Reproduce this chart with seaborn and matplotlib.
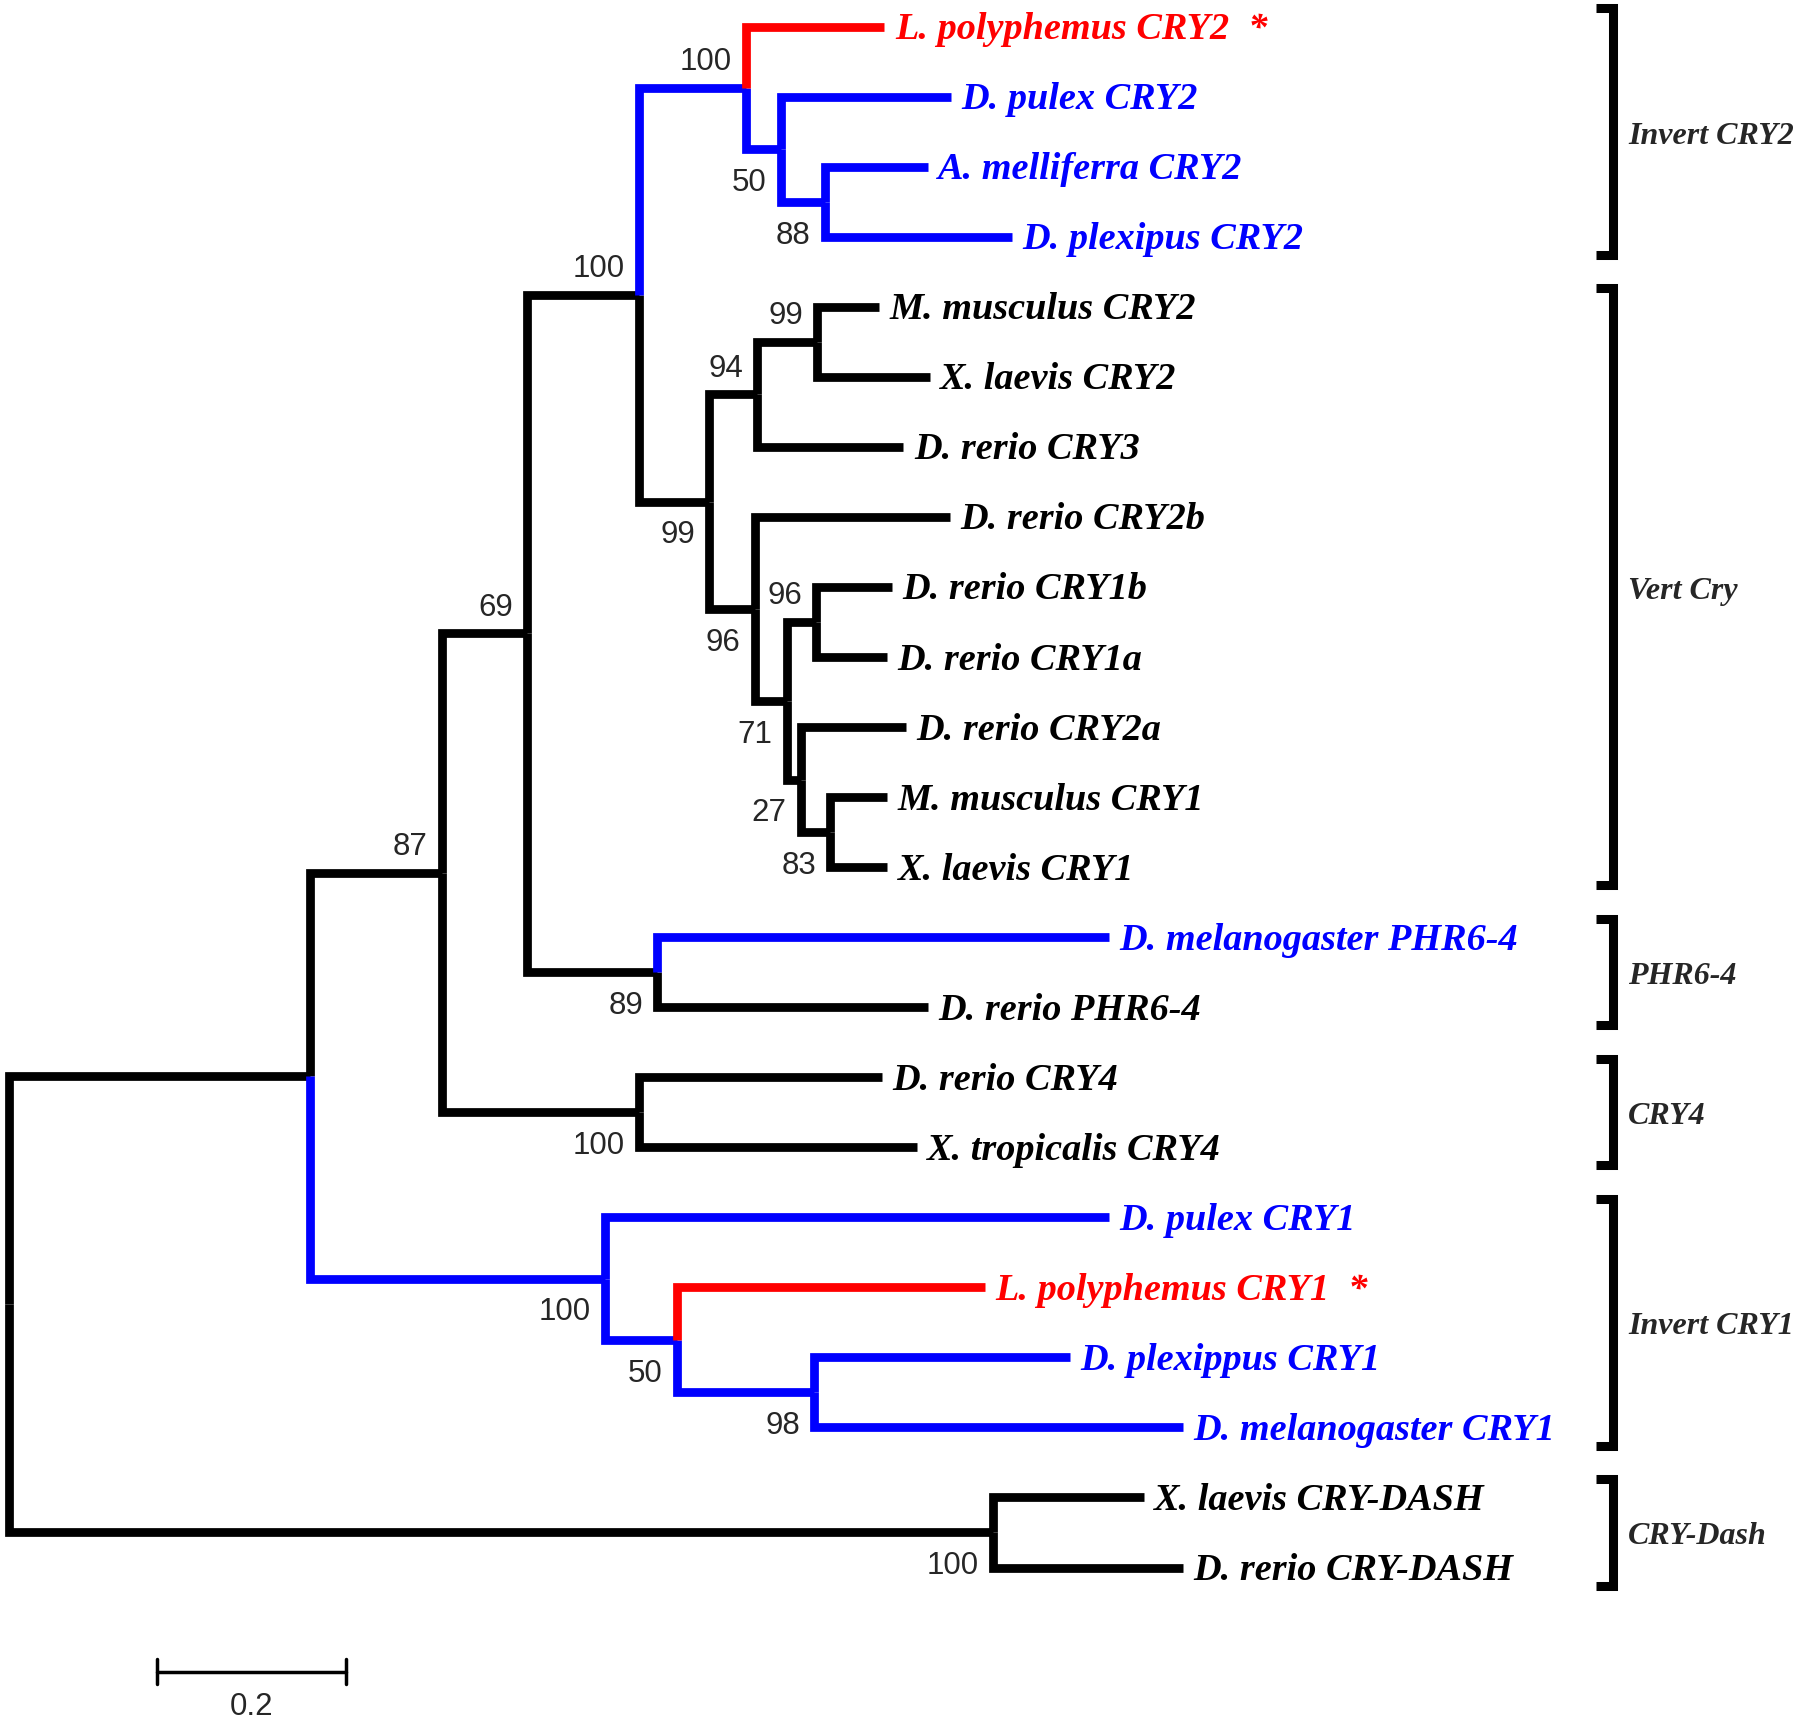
"""Cryptochrome / photolyase neighbour-joining tree (rectangular layout)."""
import matplotlib.pyplot as plt
import pandas as pd
import seaborn as sns

# ---- tree data -------------------------------------------------------------
tip_labels = [
    "L. polyphemus CRY2  *", "D. pulex CRY2", "A. melliferra CRY2",
    "D. plexipus CRY2", "M. musculus CRY2", "X. laevis CRY2",
    "D. rerio CRY3", "D. rerio CRY2b", "D. rerio CRY1b", "D. rerio CRY1a",
    "D. rerio CRY2a", "M. musculus CRY1", "X. laevis CRY1",
    "D. melanogaster PHR6-4", "D. rerio PHR6-4", "D. rerio CRY4",
    "X. tropicalis CRY4", "D. pulex CRY1", "L. polyphemus CRY1  *",
    "D. plexippus CRY1", "D. melanogaster CRY1", "X. laevis CRY-DASH",
    "D. rerio CRY-DASH",
]
tip_parent = ["E", "G", "H", "H", "K", "K", "I", "J", "M", "M", "N", "O",
              "O", "P", "P", "Q", "Q", "S", "T", "U", "U", "DASH", "DASH"]
tip_depth = [0.924, 0.994, 0.970, 1.059, 0.918, 0.972, 0.944, 0.993, 0.932,
             0.927, 0.947, 0.927, 0.927, 1.161, 0.970, 0.921, 0.958, 1.161,
             1.030, 1.120, 1.239, 1.198, 1.239]
tip_group = ["limulus", "invert", "invert", "invert", "vert", "vert", "vert",
             "vert", "vert", "vert", "vert", "vert", "vert", "invert", "vert",
             "vert", "vert", "invert", "limulus", "invert", "invert", "vert",
             "vert"]

node_names = ["R", "A", "B", "C", "D", "E", "G", "H", "F", "I", "K", "J",
              "L", "M", "N", "O", "P", "Q", "S", "T", "U", "DASH"]
node_parent = [None, "R", "A", "B", "C", "D", "E", "G", "D", "F", "I", "F",
               "J", "L", "L", "N", "C", "B", "A", "S", "T", "R"]
node_depth = [0.0, 0.318, 0.457, 0.547, 0.665, 0.778, 0.815, 0.861, 0.739,
              0.790, 0.853, 0.787, 0.821, 0.852, 0.836, 0.867, 0.684, 0.665,
              0.629, 0.705, 0.850, 1.039]
node_group = ["vert", "vert", "vert", "vert", "vert", "invert", "invert",
              "invert", "vert", "vert", "vert", "vert", "vert", "vert", "vert",
              "vert", "vert", "vert", "invert", "invert", "invert", "vert"]
node_support = [None, None, 87, 69, 100, 100, 50, 88, 99, 94, 99, 96, 71, 96,
                27, 83, 89, 100, 100, 50, 98, 100]

clade_names = ["Invert CRY2", "Vert Cry", "PHR6-4", "CRY4", "Invert CRY1",
               "CRY-Dash"]
clade_first = [0, 4, 13, 15, 17, 21]
clade_last = [3, 12, 14, 16, 20, 22]

scale_length = 0.2

palette = {"limulus": "#ff0000", "invert": "#0000ff", "vert": "#000000"}

# ---- layout ----------------------------------------------------------------
depth = dict(zip(node_names, node_depth))
group = dict(zip(node_names, node_group))
parent = dict(zip(node_names, node_parent))
children = {n: [] for n in node_names}
ypos = {}
for i, (par, d, g) in enumerate(zip(tip_parent, tip_depth, tip_group)):
    key = f"tip{i}"
    depth[key], group[key], parent[key], ypos[key] = d, g, par, i
    children[par].append(key)
for n in node_names:
    if n != "R":
        children[parent[n]].append(n)


def place(n):
    if n in ypos:
        return ypos[n]
    ys = [place(c) for c in children[n]]
    ypos[n] = (min(ys) + max(ys)) / 2
    return ypos[n]


place("R")

rows = []
for k, n in enumerate(depth):
    p = parent[n]
    if p is None:
        continue
    for x, y in [(depth[p], ypos[p]), (depth[p], ypos[n]), (depth[n], ypos[n])]:
        rows.append({"edge": k, "x": x, "y": y, "group": group[n]})
edges = pd.DataFrame(rows)

# ---- drawing ---------------------------------------------------------------
sns.set_style("white")
fig = plt.figure(figsize=(18, 17.24), dpi=100)
ax = fig.add_axes([0, 0, 1, 1])

sns.lineplot(
    data=edges, x="x", y="y", units="edge", hue="group", palette=palette,
    estimator=None, sort=False, legend=False, linewidth=6.3,
    solid_joinstyle="miter", solid_capstyle="butt", ax=ax,
)

serif = dict(family="Liberation Serif", weight="bold", style="italic")
for i, lab in enumerate(tip_labels):
    ax.text(tip_depth[i] + 0.011, i + 0.03, lab, color=palette[tip_group[i]],
            fontsize=27.5, va="center", ha="left", **serif)

for n, s in zip(node_names, node_support):
    if s is None:
        continue
    p = parent[n]
    sibs = [ypos[c] for c in children[p]]
    upper = ypos[n] == min(sibs)
    dy = -0.38 if upper else 0.47
    ax.text(depth[n] - 0.015, ypos[n] + dy, str(s), fontsize=22.5,
            family="Liberation Sans", ha="right", va="center")

bx = 1.693
for name, a, b in zip(clade_names, clade_first, clade_last):
    y0, y1 = a - 0.26, b + 0.26
    ax.plot([bx - 0.018, bx, bx, bx - 0.018], [y0, y0, y1, y1], color="black",
            lw=6.5, solid_joinstyle="miter", solid_capstyle="butt")
    ax.text(bx + 0.016, (y0 + y1) / 2 + 0.05, name, fontsize=23, ha="left",
            va="center", **serif)

sx, sy = 0.156, 23.49
ax.plot([sx, sx + scale_length], [sy, sy], color="black", lw=2.5)
for x in (sx, sx + scale_length):
    ax.plot([x, x], [sy - 0.18, sy + 0.18], color="black", lw=2.5)
ax.text(sx + scale_length / 2, sy + 0.49, f"{scale_length}", fontsize=22.5,
        family="Liberation Sans", ha="center", va="center")

ax.set_xlim(-0.0097, 1.8906)
ax.set_ylim(24.22, -0.393)
ax.axis("off")

fig.savefig("out.png", dpi=100, facecolor="white")
